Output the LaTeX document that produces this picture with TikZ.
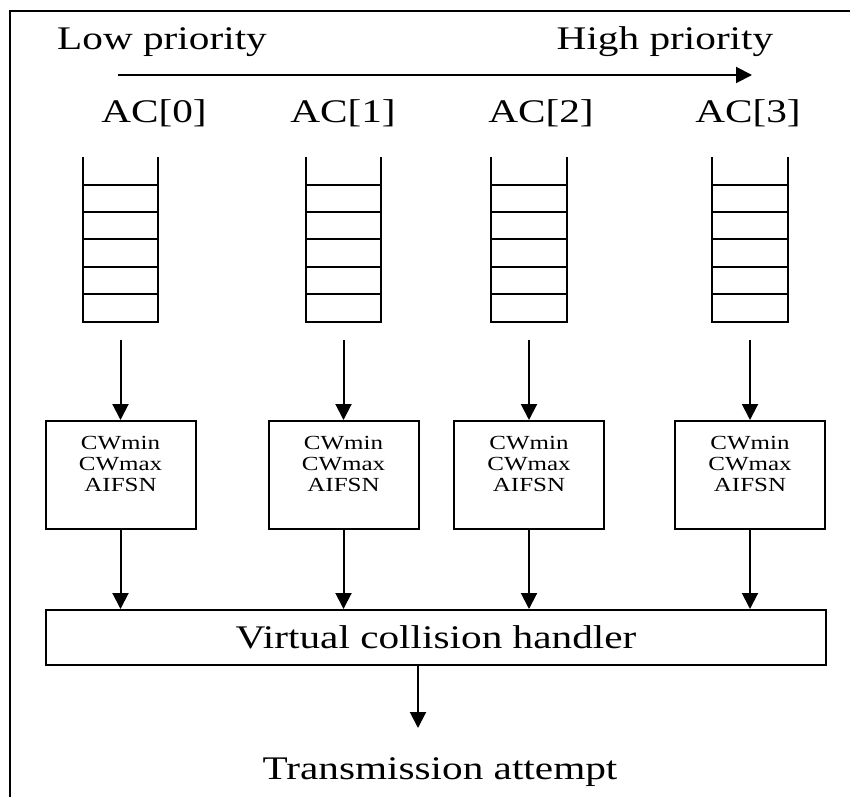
\documentclass[tikz,border=0pt]{standalone}
\usepackage{fontspec}
\setmainfont[FakeStretch=1.25]{Liberation Serif}
\usetikzlibrary{arrows.meta}
\tikzset{
  wall/.style={line width=2.2pt},
  flow/.style={line width=2pt,-{Triangle[length=16pt,width=16pt]}},
  big/.style={font=\fontsize{33}{36}\selectfont,inner sep=0pt},
  cwbox/.style={draw,line width=2pt,minimum width=150pt,minimum height=108pt,inner sep=0pt},
  cwtext/.style={font=\fontsize{20}{21}\selectfont,align=center,inner sep=0pt}
}
\begin{document}
\begin{tikzpicture}[x=1pt,y=-1pt]
  \useasboundingbox (0,0) rectangle (850,797);
  \draw[line width=1.8pt] (850,11) -- (10,11) -- (10,797);
  % priority
  \node[big] (low) at (162,42) {Low priority};
  \node[big] (high) at (665,42) {High priority};
  \coordinate (pstart) at (118,75);
  \coordinate (pend) at (752,75);
  \draw[flow] (pstart) -- (pend);
  % access categories
  \foreach \i/\x/\lx in {0/120.5/154,1/343.5/343,2/529/541,3/750/748}{
    \node[big] (ac\i) at (\lx,113) {AC[\i]};
    \node[minimum width=75pt,minimum height=165pt,inner sep=0pt] (q\i) at (\x,239.5) {};
    \draw[wall] (q\i.north west) -- (q\i.south west) -- (q\i.south east) -- (q\i.north east);
    \foreach \y in {185,212,239,267,294}
      \draw[line width=1.8pt] (\x-37.5,\y) -- (\x+37.5,\y);
    \node[cwbox] (b\i) at (\x,475) {};
    \node[cwtext,anchor=north] (t\i) at ([yshift=-16pt]b\i.north) {CWmin\\CWmax\\AIFSN};
    \draw[flow] ([yshift=-18pt]q\i.south) -- (b\i.north);
  }
  % handler
  \node[draw,line width=2pt,minimum width=780pt,minimum height=55pt,big] (vch) at (436,637.5) {Virtual collision handler};
  \foreach \i in {0,...,3}
    \draw[flow] (b\i.south) -- (b\i.south |- vch.north);
  \node[big] (ta) at (440,772) {Transmission attempt};
  \coordinate (tip) at (418,728);
  \draw[flow] (vch.south -| tip) -- (tip);
\end{tikzpicture}
\end{document}
